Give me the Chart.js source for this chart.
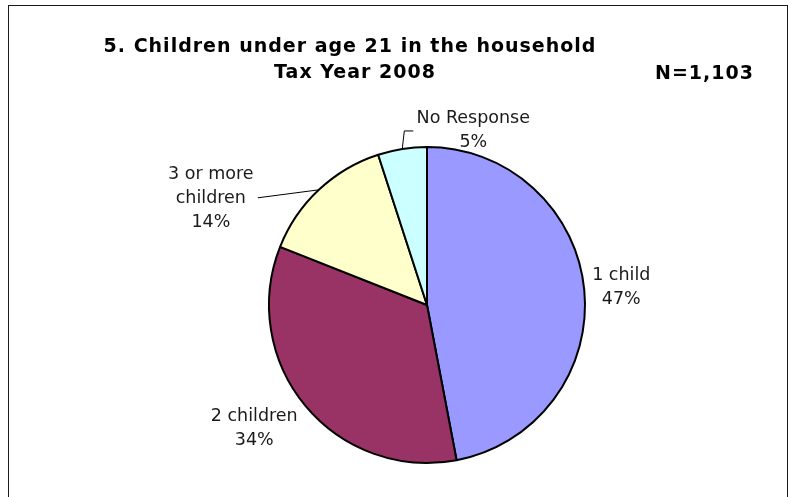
<!DOCTYPE html>
<html>
<head>
  <meta charset="utf-8">
  <title>Children under age 21 in the household</title>
  <script src="https://cdn.jsdelivr.net/npm/chart.js"></script>
  <style>
    html, body {
      margin: 0;
      padding: 0;
      background: #fff;
    }
    #wrap {
      width: 790px;
      height: 497px;
    }
  </style>
</head>
<body>

<div id="wrap"><canvas id="childrenChart" width="790" height="497"></canvas></div>

<script>
  const categories = ['1 child', '2 children', '3 or more children', 'No Response'];
  const shares = [47, 34, 14, 5];
  const sliceColors = ['#9999FF', '#993366', '#FFFFCC', '#CCFFFF'];
  const titleLines = ['5. Children under age 21 in the household', 'Tax Year 2008'];
  const sampleNote = 'N=1,103';

  // label text split over lines, and where each block sits from the middle of its slice rim
  const labelLines = [['1 child'], ['2 children'], ['3 or more', 'children'], ['No Response']];
  const labelOffsets = [[37, -3], [-51, 23], [-108, 9], [71, -18]];
  const leaderPoints = [null, null, [[-61, 8]], [[2, -18], [11, -18]]];

  const labelFont = '17.5px "DejaVu Sans", Verdana, sans-serif';
  const titleFont = 'bold 19px "DejaVu Sans", Verdana, sans-serif';

  const decorations = {
    id: 'decorations',
    beforeDraw(chart) {
      const ctx = chart.ctx;
      ctx.save();
      ctx.strokeStyle = '#1a1a1a';
      ctx.lineWidth = 1;
      ctx.strokeRect(8.5, 5.5, 779, 520);
      ctx.restore();
    },
    afterDraw(chart) {
      const ctx = chart.ctx;
      ctx.save();

      ctx.fillStyle = '#000';
      ctx.font = titleFont;
      ctx.letterSpacing = '1px';
      ctx.textAlign = 'center';
      ctx.textBaseline = 'middle';
      ctx.fillText(titleLines[0], 350, 47);
      ctx.fillText(titleLines[1], 355, 73);
      ctx.textAlign = 'left';
      ctx.fillText(sampleNote, 655, 74);
      ctx.letterSpacing = '0px';

      const arcs = chart.getDatasetMeta(0).data;
      ctx.font = labelFont;
      ctx.textAlign = 'center';
      arcs.forEach((arc, i) => {
        const mid = (arc.startAngle + arc.endAngle) / 2;
        const rx = arc.x + Math.cos(mid) * arc.outerRadius;
        const ry = arc.y + Math.sin(mid) * arc.outerRadius;

        if (leaderPoints[i]) {
          ctx.strokeStyle = '#000';
          ctx.lineWidth = 1;
          ctx.beginPath();
          ctx.moveTo(rx, ry);
          leaderPoints[i].forEach(p => ctx.lineTo(rx + p[0], ry + p[1]));
          ctx.stroke();
        }

        const lines = labelLines[i].concat([shares[i] + '%']);
        const lineH = 24;
        const cx = rx + labelOffsets[i][0];
        const top = ry + labelOffsets[i][1] - (lines.length - 1) * lineH / 2;
        ctx.fillStyle = '#1a1a1a';
        lines.forEach((t, k) => ctx.fillText(t, cx, top + k * lineH));
      });

      ctx.restore();
    }
  };

  const ctx = document.getElementById('childrenChart').getContext('2d');
  new Chart(ctx, {
    type: 'pie',
    data: {
      labels: categories,
      datasets: [{
        data: shares,
        backgroundColor: sliceColors,
        borderColor: '#000',
        borderWidth: 2
      }]
    },
    options: {
      responsive: false,
      animation: false,
      layout: {
        padding: { left: 268, right: 204, top: 146, bottom: 33 }
      },
      plugins: {
        legend: { display: false },
        tooltip: { enabled: false }
      }
    },
    plugins: [decorations]
  });
</script>

</body>
</html>
